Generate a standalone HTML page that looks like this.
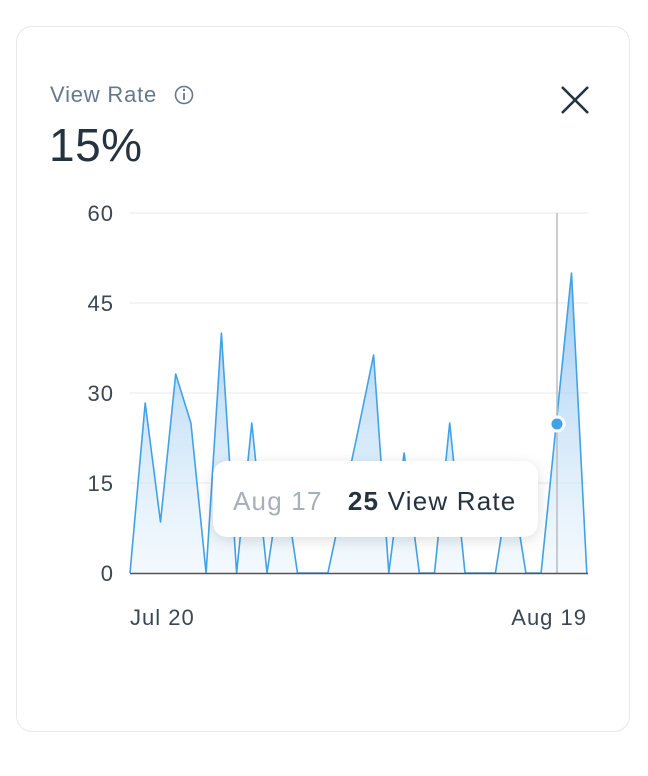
<!DOCTYPE html>
<html><head><style>
body{margin:0;width:648px;height:776px;background:#fff;font-family:"Liberation Sans",sans-serif;position:relative;overflow:hidden}
.card{position:absolute;left:16px;top:26px;width:614px;height:706px;border:1px solid #e6e8eb;border-radius:16px;box-sizing:border-box}
.t{position:absolute;left:50px;top:82px;font-size:22px;letter-spacing:0.8px;color:#66788a}
.v{position:absolute;left:49px;top:118px;font-size:46px;color:#253341;font-weight:300;letter-spacing:0.5px}
.tip{position:absolute;left:213px;top:461px;width:325px;height:76px;background:#fff;border-radius:14px;box-shadow:0 3px 14px rgba(0,0,0,0.13);font-size:26px;letter-spacing:1.2px;line-height:80px;box-sizing:border-box;padding-left:20px;white-space:nowrap}
</style></head><body>
<div class="card"></div>
<div class="t">View Rate</div>
<svg style="position:absolute;left:0;top:0" width="648" height="776">
<defs><linearGradient id="g" x1="0" y1="213" x2="0" y2="573" gradientUnits="userSpaceOnUse"><stop offset="0" stop-color="#6cb2ea" stop-opacity="0.9"/><stop offset="1" stop-color="#d8ebfa" stop-opacity="0.3"/></linearGradient></defs>
<circle cx="184" cy="95" r="8.5" fill="none" stroke="#66788a" stroke-width="1.6"/><line x1="184" y1="93" x2="184" y2="100" stroke="#66788a" stroke-width="1.8"/><circle cx="184" cy="90" r="1.2" fill="#66788a"/>
<path d="M562 87 L588 113 M588 87 L562 113" stroke="#253341" stroke-width="2.6"/>
<g stroke="#e8eaed" stroke-width="1"><line x1="130" y1="213" x2="588" y2="213"/><line x1="130" y1="303" x2="588" y2="303"/><line x1="130" y1="393" x2="588" y2="393"/><line x1="130" y1="483" x2="588" y2="483"/></g>
<g font-size="22" fill="#3b4754" text-anchor="end" letter-spacing="1"><text x="114" y="221">60</text><text x="114" y="311">45</text><text x="114" y="401">30</text><text x="114" y="491">15</text><text x="114" y="581">0</text></g>
<path d="M130,573 L145.2,403 L160.5,522 L175.7,374 L190.9,423 L206.1,573 L221.4,333 L236.6,573 L251.8,423 L267.0,573 L282.3,471 L297.5,573 L312.7,573 L327.9,573 L343.2,501 L358.4,429 L373.6,355 L388.8,573 L404.1,453 L419.3,573 L434.5,573 L449.7,423 L465.0,573 L480.2,573 L495.4,573 L510.6,477 L525.9,573 L541.1,573 L556.3,423 L571.5,273 L586.8,573" fill="url(#g)" stroke="#42a2e6" stroke-width="1.6" stroke-linejoin="round"/>
<line x1="557" y1="213" x2="557" y2="573" stroke="#b8bcc0" stroke-width="1.5"/>
<line x1="130" y1="573.5" x2="588" y2="573.5" stroke="#555" stroke-width="1.5"/>
<circle cx="557" cy="424" r="7" fill="#42a2e6" stroke="#fff" stroke-width="3"/>
<g font-size="22" fill="#3b4754" letter-spacing="1"><text x="130" y="625">Jul 20</text><text x="587" y="625" text-anchor="end">Aug 19</text></g>
</svg>
<div class="v">15%</div>
<div class="tip"><span style="color:#a7b0ba">Aug 17</span>&nbsp;&nbsp;&nbsp;<b style="color:#253341">25</b><span style="color:#253341"> View Rate</span></div>
</body></html>
